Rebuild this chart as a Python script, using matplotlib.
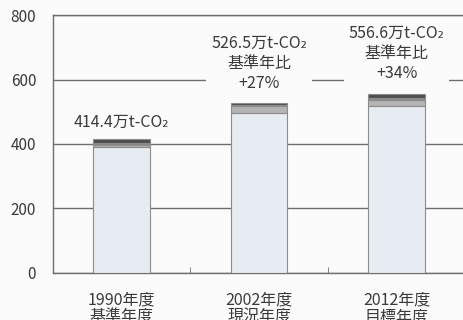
import matplotlib.pyplot as plt
import numpy as np

plt.rcParams['font.family'] = ['Noto Sans CJK JP', 'DejaVu Sans']

# emissions by fiscal year, 万t-CO2
years = ['1990年度\n基準年度', '2002年度\n現況年度', '2012年度\n目標年度']
totals = [414.4, 526.5, 556.6]
ratio_labels = ['', '基準年比\n+27%', '基準年比\n+34%']

# stacked components (bottom to top)
main_part = [391.4, 497.5, 517.6]
part_a = [7.0, 20.0, 18.0]
part_b = [6.0, 4.0, 8.0]
part_c = [10.0, 5.0, 13.0]

seg_colors = ['#e7ecf2', '#b4b4b4', '#8a8a8a', '#4e4e4e']
text_color = '#3a3a3a'
line_color = '#6e6e6e'

fig = plt.figure(figsize=(4.64, 3.2), dpi=100, facecolor='#fbfbfb')
ax = fig.add_axes([0.114, 0.147, 0.889, 0.806])
ax.set_facecolor('#fbfbfb')

x = np.arange(len(years))
bottom = np.zeros(len(years))
for vals, col in zip([main_part, part_a, part_b, part_c], seg_colors):
    ax.bar(x, vals, width=0.41, bottom=bottom, color=col,
           edgecolor='#8c8c8c', linewidth=0.8, zorder=3)
    bottom += np.array(vals)

ax.set_xlim(-0.5, 2.5)
ax.set_ylim(0, 800)
ax.set_yticks([0, 200, 400, 600, 800])
ax.yaxis.grid(True, color=line_color, linewidth=1.0, zorder=0)
ax.set_axisbelow(True)

ax.set_xticks(x)
ax.set_xticklabels(years)
ax.set_xticks([0.5, 1.5], minor=True)
ax.tick_params(axis='x', which='major', length=0, pad=13,
               labelsize=11.5, labelcolor=text_color)
ax.tick_params(axis='x', which='minor', direction='in', length=4,
               color=line_color)
ax.tick_params(axis='y', length=0, pad=12, labelsize=11,
               labelcolor=text_color)
for lab in ax.get_xticklabels():
    lab.set_linespacing(1.05)

for side in ['left', 'bottom', 'top']:
    ax.spines[side].set_color(line_color)
    ax.spines[side].set_linewidth(1.0)
ax.spines['right'].set_visible(False)

# value labels over each bar
for xi, tot, extra in zip(x, totals, ratio_labels):
    label = '{:.1f}万t-CO₂'.format(tot)
    if extra:
        label += '\n' + extra
        offset = 8
    else:
        offset = 6
    ax.annotate(label, xy=(xi, tot), xytext=(0, offset),
                textcoords='offset points', ha='center', va='bottom',
                fontsize=11.5, color=text_color, linespacing=1.25,
                bbox=dict(boxstyle='square,pad=0.3', fc='#fbfbfb', ec='none'),
                zorder=4)

fig.savefig('out.png', dpi=100, facecolor=fig.get_facecolor())
